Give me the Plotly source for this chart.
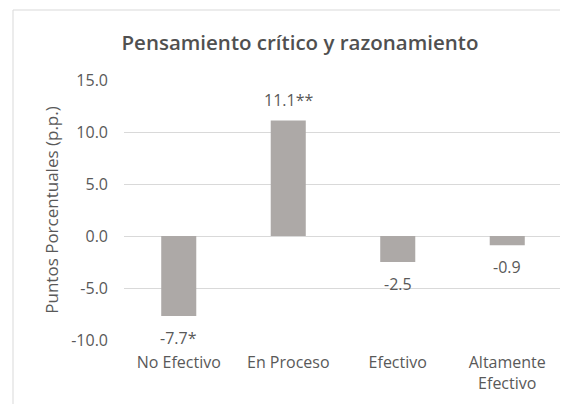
import plotly.graph_objects as go

categories = ["No Efectivo", "En Proceso", "Efectivo", "Altamente<br>Efectivo"]
values = [-7.7, 11.1, -2.5, -0.9]
labels = ["-7.7*", "11.1**", "-2.5", "-0.9"]
ytick_vals = [-10, -5, 0, 5, 10, 15]
ytick_text = [f"{v:.1f}" for v in ytick_vals]

font_name = "Open Sans, Liberation Sans, sans-serif"
grey_text = "#595959"

fig = go.Figure()
fig.add_trace(go.Bar(
    x=categories,
    y=values,
    marker=dict(color="#ADA9A7", line=dict(width=0)),
))

# value labels sit a bit further from the bar ends than plotly's "outside" text
for cat, val, lab in zip(categories, values, labels):
    fig.add_annotation(
        x=cat, y=val, text=lab, showarrow=False,
        yanchor="middle", yshift=21 if val > 0 else -22,
        font=dict(size=16, color=grey_text, family=font_name),
    )

# page body adds an 8px offset, so the figure is placed 8px up/left of the target
ml, mr, mt, mb = 116, 14, 72, 72
plot_h = 404 - mt - mb
plot_w = 568 - ml - mr
top_border = (404 - mb - 2) / plot_h
left_border = (5 - ml) / plot_w

fig.update_layout(
    width=568,
    height=404,
    margin=dict(l=ml, r=mr, t=mt, b=mb, autoexpand=False),
    paper_bgcolor="white",
    plot_bgcolor="white",
    bargap=0.68,
    showlegend=False,
    font=dict(family=font_name, color=grey_text, size=16),
    title=dict(
        text="Pensamiento crítico y razonamiento",
        x=0.514,
        xanchor="center",
        y=0.913,
        yanchor="middle",
        font=dict(size=20.5, color="#505050", family=font_name, weight=600),
    ),
    xaxis=dict(
        showgrid=False,
        showline=False,
        ticks="",
        automargin=False,
        ticklabelstandoff=11,
        tickfont=dict(size=16, color=grey_text),
    ),
    yaxis=dict(
        range=[-10, 15],
        tickvals=ytick_vals,
        ticktext=ytick_text,
        showgrid=True,
        gridcolor="#D9D9D9",
        gridwidth=1,
        zeroline=True,
        zerolinecolor="#D9D9D9",
        zerolinewidth=1,
        showline=False,
        ticks="",
        automargin=False,
        ticklabelstandoff=15,
        tickfont=dict(size=16, color=grey_text),
        title=dict(text="Puntos Porcentuales (p.p.)", standoff=8,
                   font=dict(size=17, color=grey_text)),
    ),
    shapes=[
        dict(type="line", xref="paper", yref="paper",
             x0=left_border, x1=1.2, y0=top_border, y1=top_border,
             line=dict(color="#D9D9D9", width=1)),
        dict(type="line", xref="paper", yref="paper",
             x0=left_border, x1=left_border, y0=-0.4, y1=top_border,
             line=dict(color="#D9D9D9", width=1)),
    ],
)

fig.write_html("out.html")
